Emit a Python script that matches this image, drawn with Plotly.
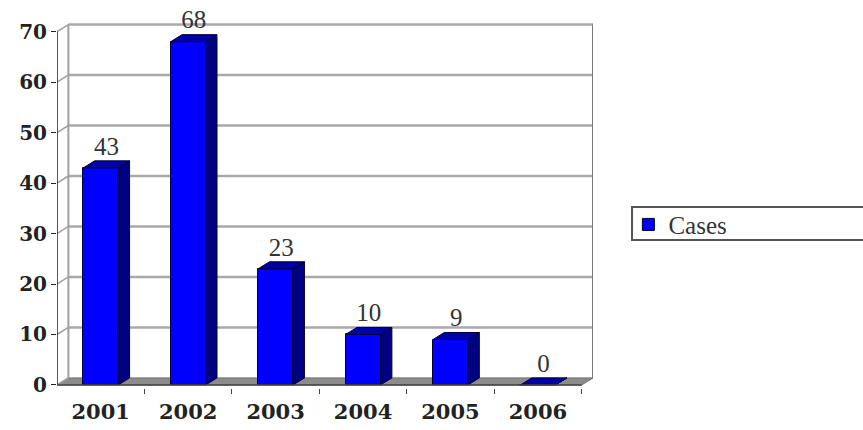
import plotly.graph_objects as go

years = ["2001", "2002", "2003", "2004", "2005", "2006"]
cases = [43, 68, 23, 10, 9, 0]
y_ticks = [0, 10, 20, 30, 40, 50, 60, 70]

idx = list(range(len(years)))
HW = 0.2      # half width of bar front face (category units)
DX = 0.13     # depth offset in x (category units)
DY = 1.4      # depth offset in y (value units)
X0, X1 = -0.5, len(years) - 0.5
YMAX = y_ticks[-1]

FRONT = "#0000FF"
SIDE = "#000080"
TOP = "#0000A8"
EDGE = "#000033"
SERIF = "Liberation Serif, Times New Roman, serif"

fig = go.Figure()

# Front faces
fig.add_trace(go.Bar(
    x=idx, y=cases, width=2 * HW, name="Cases",
    marker=dict(color=FRONT, line=dict(color=EDGE, width=1)),
    hoverinfo="skip", showlegend=True,
))

# Side and top faces
for i, v in zip(idx, cases):
    xr = i + HW
    xl = i - HW
    fig.add_trace(go.Scatter(
        x=[xr, xr, xr + DX, xr + DX, xr], y=[0, v, v + DY, DY, 0],
        mode="lines", fill="toself", fillcolor=SIDE,
        line=dict(color=EDGE, width=1), showlegend=False, hoverinfo="skip"))
    fig.add_trace(go.Scatter(
        x=[xl, xr, xr + DX, xl + DX, xl], y=[v, v, v + DY, v + DY, v],
        mode="lines", fill="toself", fillcolor=TOP,
        line=dict(color=EDGE, width=1), showlegend=False, hoverinfo="skip"))

# Value labels
fig.add_trace(go.Scatter(
    x=[i + DX / 2 for i in idx], y=[v + DY for v in cases],
    mode="text", text=[str(v) for v in cases], textposition="top center",
    textfont=dict(family=SERIF, size=25, color="#333333"),
    cliponaxis=False, showlegend=False, hoverinfo="skip"))

shapes = []
# Floor
shapes.append(dict(type="path", xref="x", yref="y", layer="below",
                   path=f"M {X0},0 L {X1},0 L {X1 + DX},{DY} L {X0 + DX},{DY} Z",
                   fillcolor="#8C8C8C", line=dict(color="#6E6E6E", width=1)))
# Back wall gridlines and left wall diagonals
for t in y_ticks:
    if t > 0:
        shapes.append(dict(type="line", xref="x", yref="y", layer="below",
                           x0=X0 + DX, x1=X1 + DX, y0=t + DY, y1=t + DY,
                           line=dict(color="#A9A9A9", width=2.5)))
    shapes.append(dict(type="line", xref="x", yref="y", layer="below",
                       x0=X0, x1=X0 + DX, y0=t, y1=t + DY,
                       line=dict(color="#A0A0A0", width=1.5)))
# Back wall vertical edges
shapes.append(dict(type="line", xref="x", yref="y", layer="below",
                   x0=X0 + DX, x1=X0 + DX, y0=DY, y1=YMAX + DY,
                   line=dict(color="#A0A0A0", width=2)))
shapes.append(dict(type="line", xref="x", yref="y", layer="below",
                   x0=X1 + DX, x1=X1 + DX, y0=DY, y1=YMAX + DY,
                   line=dict(color="#7A7A7A", width=2)))
# Front axis lines
shapes.append(dict(type="line", xref="x", yref="y",
                   x0=X0, x1=X0, y0=0, y1=YMAX,
                   line=dict(color="#222222", width=1.5)))
shapes.append(dict(type="line", xref="x", yref="y",
                   x0=X0, x1=X1, y0=0, y1=0,
                   line=dict(color="#444444", width=1.5)))
# Legend frame (extends past the right edge as in the reference)
shapes.append(dict(type="rect", xref="paper", yref="paper",
                   x0=1.0728, x1=1.62, y0=0.401, y1=0.4905,
                   line=dict(color="#555555", width=2), fillcolor="rgba(0,0,0,0)"))

fig.update_layout(
    width=863, height=430,
    margin=dict(l=57, r=270, t=19, b=42, autoexpand=False),
    paper_bgcolor="white", plot_bgcolor="white",
    shapes=shapes,
    bargap=0,
    xaxis=dict(
        range=[X0, X1 + DX], tickmode="array", tickvals=idx, ticktext=years,
        showgrid=False, zeroline=False, showline=False, ticks="",
        ticklabelstandoff=9,
        tickfont=dict(family="DejaVu Serif", size=21, color="#222222", weight="bold"),
        minor=dict(tickmode="array", tickvals=[i + 0.5 for i in idx],
                   ticks="outside", ticklen=5, tickcolor="#444444", showgrid=False),
        fixedrange=True,
    ),
    yaxis=dict(
        range=[-0.6, 72.5], tickmode="array", tickvals=y_ticks,
        showgrid=False, zeroline=False, showline=False,
        ticks="outside", ticklen=5, tickcolor="#222222",
        tickfont=dict(family="DejaVu Serif", size=20, color="#222222", weight="bold"),
        fixedrange=True,
    ),
    showlegend=True,
    legend=dict(
        x=1.066, y=0.505, xanchor="left", yanchor="top",
        borderwidth=0, bgcolor="rgba(0,0,0,0)",
        font=dict(family=SERIF, size=25, color="#333333"),
        itemwidth=30,
    ),
)

fig.write_html("out.html")
